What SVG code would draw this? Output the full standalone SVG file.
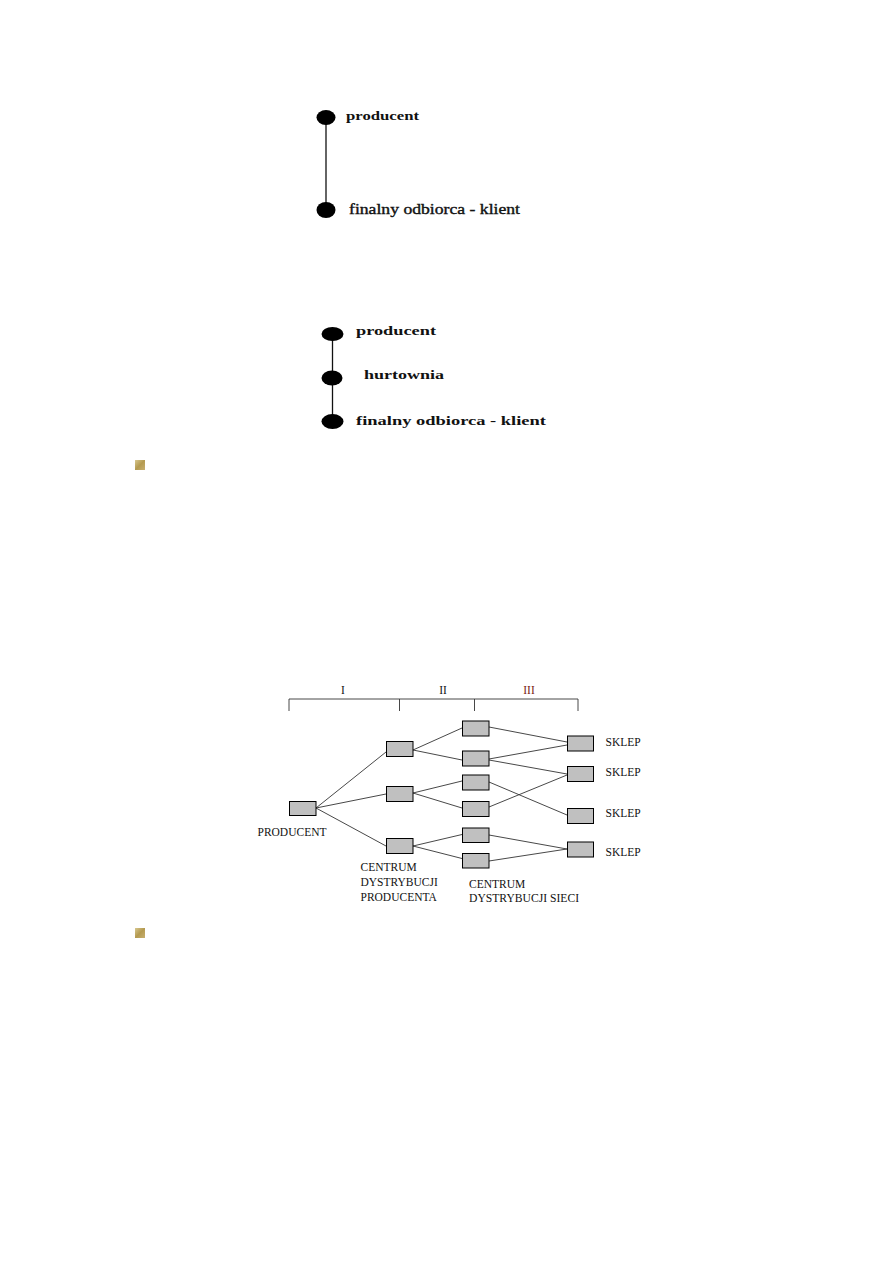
<svg xmlns="http://www.w3.org/2000/svg" width="893" height="1263" viewBox="0 0 893 1263">
<defs>
<linearGradient id="bul" x1="0" y1="0" x2="1" y2="1">
<stop offset="0" stop-color="#d8c890"/>
<stop offset="0.5" stop-color="#b49a50"/>
<stop offset="1" stop-color="#c8b070"/>
</linearGradient>
</defs>
<style>
.dot{fill:#000}
.vl{stroke:#111;stroke-width:1.3;fill:none}
.t1{font-family:"Liberation Serif",serif;font-size:13px;font-weight:bold;fill:#111}
.t1n{font-family:"Liberation Serif",serif;font-size:14px;font-weight:normal;fill:#111;stroke:#111;stroke-width:0.35}
.t2{font-family:"Liberation Serif",serif;font-size:13.5px;font-weight:bold;fill:#111}
.box{fill:#c0c0c0;stroke:#000;stroke-width:1}
.ln{stroke:#333;stroke-width:0.9;fill:none}
.lb{font-family:"Liberation Serif",serif;font-size:11.5px;fill:#111}
.bul{fill:url(#bul)}
</style>
<rect width="893" height="1263" fill="#fff"/>

<g id="connectors">
<line class="vl" x1="326" y1="118" x2="326" y2="210"/>
<line class="vl" x1="332.5" y1="334" x2="332.5" y2="422"/>
<path class="ln" d="M289,711 V699 H578 V711 M399.5,699 V711 M474.5,699 V711"/>
<line class="ln" x1="316" y1="808" x2="386" y2="752"/>
<line class="ln" x1="316" y1="808" x2="386" y2="794"/>
<line class="ln" x1="316" y1="808" x2="386" y2="846"/>
<line class="ln" x1="413" y1="750" x2="462" y2="728"/>
<line class="ln" x1="413" y1="750" x2="462" y2="760"/>
<line class="ln" x1="413" y1="793" x2="462" y2="781"/>
<line class="ln" x1="413" y1="793" x2="462" y2="808"/>
<line class="ln" x1="413" y1="846" x2="462" y2="834.5"/>
<line class="ln" x1="413" y1="846" x2="462" y2="858.5"/>
<line class="ln" x1="489" y1="727" x2="567" y2="742"/>
<line class="ln" x1="489" y1="759" x2="567" y2="745"/>
<line class="ln" x1="489" y1="760" x2="567" y2="774"/>
<line class="ln" x1="489" y1="782" x2="567" y2="815"/>
<line class="ln" x1="489" y1="807" x2="567" y2="775"/>
<line class="ln" x1="489" y1="835" x2="567" y2="849"/>
<line class="ln" x1="489" y1="861" x2="567" y2="849"/>
</g>

<g id="n-producent-1">
<ellipse class="dot" cx="326" cy="117.5" rx="9.5" ry="7.5"/>
<text class="t1" x="346" y="120" textLength="73" lengthAdjust="spacingAndGlyphs">producent</text>
</g>
<g id="n-klient-1">
<ellipse class="dot" cx="326" cy="210" rx="9.5" ry="8"/>
<text class="t1n" x="349" y="213.5" textLength="171" lengthAdjust="spacingAndGlyphs">finalny odbiorca - klient</text>
</g>

<g id="n-producent-2">
<ellipse class="dot" cx="332.5" cy="334" rx="11" ry="7"/>
<text class="t2" x="356" y="334.5" textLength="80" lengthAdjust="spacingAndGlyphs">producent</text>
</g>
<g id="n-hurtownia">
<ellipse class="dot" cx="332" cy="378" rx="10.5" ry="7.5"/>
<text class="t2" x="364" y="379" textLength="80" lengthAdjust="spacingAndGlyphs">hurtownia</text>
</g>
<g id="n-klient-2">
<ellipse class="dot" cx="332.5" cy="421.5" rx="11" ry="7.5"/>
<text class="t2" x="356" y="424.5" textLength="190" lengthAdjust="spacingAndGlyphs">finalny odbiorca - klient</text>
</g>

<g id="bullet-1"><rect class="bul" x="135" y="460" width="10" height="10"/></g>
<g id="bullet-2"><rect class="bul" x="135" y="928" width="10" height="10"/></g>

<g id="stage-labels">
<text class="lb" x="343" y="694" text-anchor="middle">I</text>
<text class="lb" x="443" y="694" text-anchor="middle">II</text>
<text class="lb" x="529" y="694" text-anchor="middle" style="fill:#7a1a10">III</text>
</g>

<g id="n-prod">
<rect class="box" x="289.5" y="801.5" width="26.5" height="14"/>
<text class="lb" x="257.5" y="835.5" textLength="69" lengthAdjust="spacingAndGlyphs">PRODUCENT</text>
</g>
<g id="n-cdp1"><rect class="box" x="386.5" y="741.5" width="26.5" height="15"/></g>
<g id="n-cdp2"><rect class="box" x="386.5" y="786.5" width="26.5" height="15"/></g>
<g id="n-cdp3">
<rect class="box" x="386.5" y="838.5" width="26.5" height="15"/>
<text class="lb" x="360.5" y="870.5">CENTRUM</text>
<text class="lb" x="360.5" y="885.5">DYSTRYBUCJI</text>
<text class="lb" x="360.5" y="900.5">PRODUCENTA</text>
</g>
<g id="n-cds1"><rect class="box" x="462.5" y="721" width="26.5" height="15"/></g>
<g id="n-cds2"><rect class="box" x="462.5" y="751" width="26.5" height="15"/></g>
<g id="n-cds3"><rect class="box" x="462.5" y="775" width="26.5" height="15"/></g>
<g id="n-cds4"><rect class="box" x="462.5" y="801.5" width="26.5" height="15"/></g>
<g id="n-cds5"><rect class="box" x="462.5" y="828" width="26.5" height="14.5"/></g>
<g id="n-cds6">
<rect class="box" x="462.5" y="853.5" width="26.5" height="14.5"/>
<text class="lb" x="469" y="888">CENTRUM</text>
<text class="lb" x="469" y="902" textLength="110" lengthAdjust="spacingAndGlyphs">DYSTRYBUCJI SIECI</text>
</g>
<g id="n-sklep1">
<rect class="box" x="567.5" y="736" width="26" height="15"/>
<text class="lb" x="605.5" y="745.5">SKLEP</text>
</g>
<g id="n-sklep2">
<rect class="box" x="567.5" y="766.5" width="26" height="15"/>
<text class="lb" x="605.5" y="776">SKLEP</text>
</g>
<g id="n-sklep3">
<rect class="box" x="567.5" y="808.5" width="26" height="15"/>
<text class="lb" x="605.5" y="816.5">SKLEP</text>
</g>
<g id="n-sklep4">
<rect class="box" x="567.5" y="842" width="26" height="15"/>
<text class="lb" x="605.5" y="855.5">SKLEP</text>
</g>
</svg>
